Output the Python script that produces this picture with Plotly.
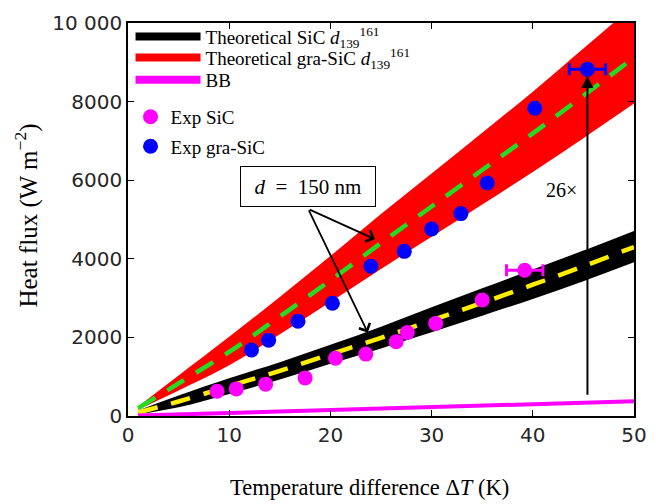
import plotly.graph_objects as go

# ---- data ----
dT_theory = [1, 5, 10, 15, 20, 25, 30, 35, 40, 45, 50]
sic_center = [90, 370, 760, 1150, 1570, 1990, 2430, 2880, 3340, 3810, 4300]
sic_upper = [140, 520, 960, 1370, 1810, 2270, 2770, 3250, 3730, 4210, 4710]
sic_lower = [40, 220, 560, 930, 1330, 1720, 2130, 2550, 2980, 3430, 3910]
gra_center = [200, 830, 1630, 2530, 3450, 4400, 5330, 6260, 7190, 8150, 9120]
gra_upper = [240, 1030, 2015, 3030, 4070, 5140, 6170, 7210, 8250, 9350, 10450]
gra_lower = [160, 650, 1290, 2080, 2900, 3740, 4560, 5380, 6210, 7070, 7950]
bb_x = [1, 50]
bb_y = [10, 375]

exp_sic_x = [8.8, 10.7, 13.6, 17.5, 20.5, 23.5, 26.5, 27.6, 30.4, 35.0, 39.2]
exp_sic_y = [628, 690, 810, 970, 1470, 1575, 1890, 2125, 2355, 2950, 3710]
exp_sic_err = [0, 0, 0, 0, 0, 0, 0, 0, 0, 0, 1.8]
exp_gra_x = [12.2, 13.9, 16.8, 20.2, 24.0, 27.3, 30.0, 32.9, 35.5, 40.2, 45.4]
exp_gra_y = [1680, 1930, 2410, 2870, 3810, 4190, 4760, 5150, 5930, 7830, 8820]
exp_gra_err = [0, 0, 0, 0, 0, 0, 0, 0, 0, 0, 1.8]

x_ticks = [0, 10, 20, 30, 40, 50]
y_ticks = [0, 2000, 4000, 6000, 8000, 10000]
y_ticktext = ["0", "2000", "4000", "6000", "8000", "10 000"]

SERIF = "Liberation Serif, Times New Roman, serif"
SANS = "DejaVu Sans, Arial, sans-serif"

fig = go.Figure()

# red band (gra-SiC)
fig.add_trace(go.Scatter(x=dT_theory, y=gra_upper, mode="lines", line=dict(color="red", width=0),
                         line_shape="spline", showlegend=False, hoverinfo="skip"))
fig.add_trace(go.Scatter(x=dT_theory, y=gra_lower, mode="lines", line=dict(color="red", width=0),
                         line_shape="spline", fill="tonexty", fillcolor="red", showlegend=False, hoverinfo="skip"))
# black band (SiC)
fig.add_trace(go.Scatter(x=dT_theory, y=sic_upper, mode="lines", line=dict(color="black", width=0),
                         line_shape="spline", showlegend=False, hoverinfo="skip"))
fig.add_trace(go.Scatter(x=dT_theory, y=sic_lower, mode="lines", line=dict(color="black", width=0),
                         line_shape="spline", fill="tonexty", fillcolor="black", showlegend=False, hoverinfo="skip"))
# center dashed lines
fig.add_trace(go.Scatter(x=dT_theory, y=gra_center, mode="lines", line_shape="spline",
                         line=dict(color="#22dd22", width=4.5, dash="20px,14px"), showlegend=False))
fig.add_trace(go.Scatter(x=dT_theory, y=sic_center, mode="lines", line_shape="spline",
                         line=dict(color="#ffee00", width=4.5, dash="20px,14px"), showlegend=False))
# BB
fig.add_trace(go.Scatter(x=bb_x, y=bb_y, mode="lines", line=dict(color="magenta", width=4),
                         showlegend=False))

# legend dummy lines
fig.add_trace(go.Scatter(x=[None], y=[None], mode="lines", line=dict(color="black", width=8),
                         name="Theoretical SiC <i>d</i><sub>139</sub><sup>161</sup>", legend="legend"))
fig.add_trace(go.Scatter(x=[None], y=[None], mode="lines", line=dict(color="red", width=8),
                         name="Theoretical gra-SiC <i>d</i><sub>139</sub><sup>161</sup>", legend="legend5"))
fig.add_trace(go.Scatter(x=[None], y=[None], mode="lines", line=dict(color="magenta", width=8),
                         name="BB", legend="legend3"))

# experimental points
fig.add_trace(go.Scatter(x=exp_sic_x, y=exp_sic_y, mode="markers", name="Exp SiC",
                         marker=dict(color="magenta", size=15),
                         error_x=dict(type="data", array=exp_sic_err, color="magenta", thickness=3, width=6),
                         legend="legend2"))
fig.add_trace(go.Scatter(x=exp_gra_x, y=exp_gra_y, mode="markers", name="Exp gra-SiC",
                         marker=dict(color="blue", size=15),
                         error_x=dict(type="data", array=exp_gra_err, color="blue", thickness=3, width=6),
                         legend="legend4"))

axis_common = dict(showline=True, linecolor="black", linewidth=1.5, mirror="ticks",
                   ticks="inside", ticklen=6, tickcolor="black", tickwidth=1.2,
                   showgrid=False, zeroline=False, automargin=False,
                   tickfont=dict(family=SANS, size=20, color="#262626"))

legend_common = dict(xanchor="left", yanchor="middle", bgcolor="rgba(0,0,0,0)",
                     font=dict(family=SERIF, size=19, color="black"),
                     tracegroupgap=0, traceorder="normal")

fig.update_layout(
    width=661, height=496,
    margin=dict(l=120, r=35, t=10, b=88),
    paper_bgcolor="white", plot_bgcolor="white",
    xaxis=dict(range=[0, 50], tickvals=x_ticks, **axis_common),
    yaxis=dict(range=[0, 10000], tickvals=y_ticks, ticktext=y_ticktext, **axis_common),
    legend=dict(x=0.005, y=0.965, itemwidth=65, **legend_common),
    legend5=dict(x=0.005, y=0.912, itemwidth=65, **legend_common),
    legend3=dict(x=0.005, y=0.855, itemwidth=65, **legend_common),
    legend2=dict(x=0.005, y=0.761, itemwidth=30, **legend_common),
    legend4=dict(x=0.005, y=0.686, itemwidth=30, **legend_common),
    showlegend=True,
)

# axis titles as annotations
fig.add_annotation(xref="paper", yref="paper", x=0.478, y=-0.183, text="Temperature difference Δ<i>T</i> (K)",
                   showarrow=False, xanchor="center", yanchor="middle",
                   font=dict(family=SERIF, size=22.5, color="black"))
fig.add_annotation(xref="paper", yref="paper", x=-0.1996, y=0.51, text="Heat flux (W m<sup>−2</sup>)",
                   showarrow=False, xanchor="center", yanchor="middle", textangle=-90,
                   font=dict(family=SERIF, size=25, color="black"))

# d = 150 nm annotation box and arrows
fig.add_annotation(x=17.8, y=5840, text="<i>d</i>&nbsp;&nbsp;=&nbsp;&nbsp;150 nm", showarrow=False,
                   font=dict(family=SERIF, size=21, color="black"), width=122, height=27,
                   bordercolor="black", borderwidth=1, bgcolor="white", borderpad=6)
fig.add_annotation(x=24.4, y=4500, ax=17.8, ay=5270, axref="x", ayref="y", text="",
                   showarrow=True, arrowhead=4, arrowsize=1.3, arrowwidth=1.8, arrowcolor="black")
fig.add_annotation(x=23.7, y=2120, ax=17.8, ay=5270, axref="x", ayref="y", text="",
                   showarrow=True, arrowhead=4, arrowsize=1.3, arrowwidth=1.8, arrowcolor="black")
# 26x arrow
fig.add_annotation(x=45.4, y=8650, ax=45.4, ay=500, axref="x", ayref="y", text="",
                   showarrow=True, arrowhead=2, arrowsize=1.2, arrowwidth=2, arrowcolor="black")
fig.add_annotation(x=42.8, y=5750, text="26×", showarrow=False,
                   font=dict(family=SERIF, size=20, color="black"))

fig.write_html("out.html")
